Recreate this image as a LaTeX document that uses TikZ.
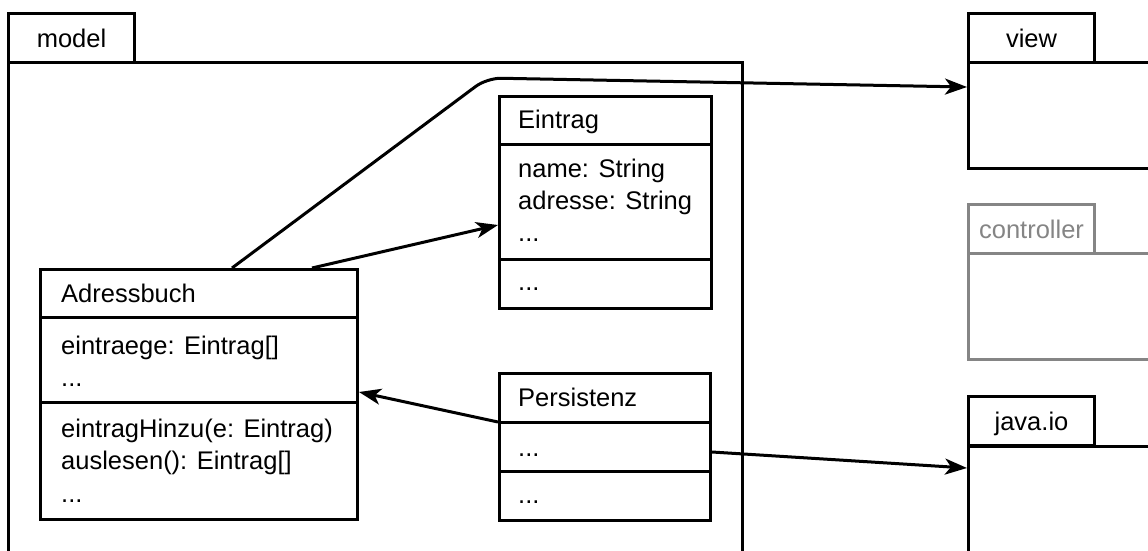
\documentclass[tikz,border=0pt]{standalone}
\usepackage{fontspec}
\setmainfont{Liberation Sans}
\usetikzlibrary{arrows.meta,calc}

\begin{document}
\begin{tikzpicture}[x=1pt,y=-1pt,
  lw/.style={line width=3pt},
  frame/.style={draw,lw,inner sep=0pt,anchor=north west},
  tab/.style={frame,minimum width=126pt,minimum height=49pt,anchor=north west,
    font=\fontsize{25.5}{30}\selectfont,text height=18pt,text depth=0pt},
  txt/.style={anchor=base west,inner sep=0pt,font=\fontsize{25.5}{30}\selectfont},
  grey/.style={draw=black!48,text=black!48},
  conn/.style={lw,-{Stealth[length=22pt,width=16pt,inset=6pt]}},
]
\clip (0,0) rectangle (1148,550);
\fill[white] (0,0) rectangle (1148,550);

% packages
\node[tab] (modeltab) at (7,12) {model};
\node[frame,minimum width=734pt,minimum height=520pt] (model) at (7,61) {};

\node[tab] (viewtab) at (967,12) {view};
\node[frame,minimum width=200pt,minimum height=106pt] (view) at (967,61) {};

\node[tab,grey] (ctrltab) at (967,203) {controller};
\node[frame,grey,minimum width=200pt,minimum height=106pt] (ctrl) at (967,252) {};

\node[tab] (iotab) at (967,395) {java.io};
\node[frame,minimum width=200pt,minimum height=180pt] (io) at (967,445) {};

% class Adressbuch
\node[frame,minimum width=317pt,minimum height=250pt] (adr) at (39,268) {};
\draw[lw] (39,317) -- (356,317);
\draw[lw] (39,402) -- (356,402);
\node[txt] (adrname) at (61,302) {Adressbuch};
\node[txt] (adra1) at (61,354) {eintraege: Eintrag[]};
\node[txt] (adra2) at (61,386) {...};
\node[txt] (adro1) at (61,437) {eintragHinzu(e: Eintrag)};
\node[txt] (adro2) at (61,469) {auslesen(): Eintrag[]};
\node[txt] (adro3) at (61,502) {...};

% class Eintrag
\node[frame,minimum width=212pt,minimum height=212pt] (ein) at (498,95) {};
\draw[lw] (498,144) -- (710,144);
\draw[lw] (498,259) -- (710,259);
\node[txt] (einname) at (518,128) {Eintrag};
\node[txt] (eina1) at (518,177) {name: String};
\node[txt] (eina2) at (518,209) {adresse: String};
\node[txt] (eina3) at (518,241) {...};
\node[txt] (eino1) at (518,290) {...};

% class Persistenz
\node[frame,minimum width=211pt,minimum height=147pt] (per) at (498,372) {};
\draw[lw] (498,422) -- (709,422);
\draw[lw] (498,471) -- (709,471);
\node[txt] (pername) at (518,406) {Persistenz};
\node[txt] (pera1) at (518,456) {...};
\node[txt] (pero1) at (518,503) {...};

% dependencies
\draw[conn,rounded corners=14pt] ($(adr.north west)+(193,0)$) -- (487,78) -- ($(view.north west)+(0,26)$);
\draw[conn] ($(adr.north west)+(273,0)$) -- ($(ein.north west)+(0,130)$);
\draw[conn] ($(per.north west)+(0,50)$) -- ($(adr.north east)+(0,124)$);
\draw[conn] ($(per.north east)+(0,80)$) -- ($(io.north west)+(0,23)$);
\end{tikzpicture}
\end{document}
